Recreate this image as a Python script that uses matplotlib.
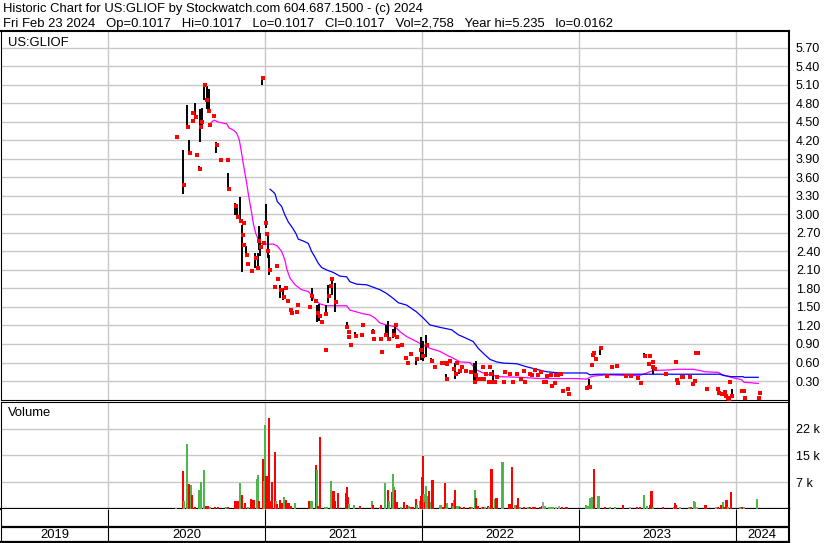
import numpy as np
import matplotlib.pyplot as plt

plt.rcParams['font.family'] = ['Liberation Sans', 'DejaVu Sans']

# daily bars, (decimal year, high, low, close); high == low means a single trade price
price_2020 = [
    (2020.438, 4.26, 4.26, 4.26), (2020.480, 4.04, 3.33, 3.48), (2020.505, 4.78, 4.40, 4.42),
    (2020.519, 4.21, 4.00, 4.00), (2020.535, 4.64, 4.64, 4.64), (2020.540, 4.52, 4.52, 4.52),
    (2020.556, 4.81, 4.58, 4.58), (2020.561, 3.96, 3.96, 3.96), (2020.582, 3.78, 3.70, 3.74),
    (2020.588, 4.71, 4.18, 4.42), (2020.597, 4.72, 4.45, 4.50), (2020.614, 5.11, 4.86, 5.10),
    (2020.629, 5.09, 4.71, 4.85), (2020.642, 5.03, 4.67, 4.68), (2020.646, 4.45, 4.45, 4.45),
    (2020.671, 4.60, 4.60, 4.60), (2020.690, 4.18, 3.99, 4.13), (2020.714, 3.88, 3.88, 3.88),
    (2020.758, 3.88, 3.88, 3.88), (2020.767, 3.67, 3.42, 3.42), (2020.809, 3.18, 2.99, 3.14),
    (2020.824, 3.14, 2.96, 2.96), (2020.843, 3.28, 2.90, 2.90), (2020.856, 2.83, 2.07, 2.66),
    (2020.862, 2.87, 2.87, 2.87), (2020.866, 2.51, 2.51, 2.51), (2020.880, 2.49, 2.34, 2.34),
    (2020.888, 2.19, 2.19, 2.19), (2020.916, 2.08, 2.08, 2.08), (2020.937, 2.38, 2.13, 2.29),
    (2020.954, 2.38, 2.13, 2.13), (2020.960, 2.81, 2.42, 2.57), (2020.969, 2.70, 2.32, 2.48),
    (2020.983, 5.235, 5.10, 5.21), (2020.990, 2.53, 2.53, 2.53),
]
price_2021 = [
    (2021.005, 3.17, 2.78, 2.86), (2021.010, 2.68, 2.68, 2.68), (2021.018, 2.70, 2.29, 2.40),
    (2021.026, 2.34, 2.02, 2.10), (2021.062, 1.86, 1.80, 1.83), (2021.075, 2.16, 2.16, 2.16),
    (2021.079, 1.95, 1.95, 1.95), (2021.096, 1.86, 1.65, 1.78), (2021.115, 1.80, 1.62, 1.66),
    (2021.128, 1.80, 1.80, 1.80), (2021.143, 1.59, 1.59, 1.59), (2021.160, 1.45, 1.45, 1.45),
    (2021.171, 1.41, 1.41, 1.41), (2021.198, 1.42, 1.42, 1.42), (2021.207, 1.53, 1.53, 1.53),
    (2021.283, 1.50, 1.50, 1.50), (2021.298, 1.80, 1.59, 1.68), (2021.319, 1.59, 1.59, 1.59),
    (2021.334, 1.53, 1.26, 1.40), (2021.345, 1.55, 1.28, 1.35), (2021.358, 1.26, 1.26, 1.26),
    (2021.385, 0.80, 0.80, 0.80), (2021.388, 1.53, 1.39, 1.39), (2021.404, 1.86, 1.56, 1.68),
    (2021.415, 1.84, 1.84, 1.84), (2021.426, 1.97, 1.69, 1.96), (2021.447, 1.89, 1.42, 1.58),
    (2021.521, 1.26, 1.18, 1.18), (2021.532, 1.10, 1.10, 1.10), (2021.535, 1.02, 1.02, 1.02),
    (2021.542, 0.88, 0.88, 0.88), (2021.574, 1.10, 1.03, 1.03), (2021.613, 1.05, 1.05, 1.05),
    (2021.619, 1.20, 1.20, 1.20), (2021.687, 1.14, 1.07, 1.10), (2021.691, 0.98, 0.98, 0.98),
    (2021.734, 0.98, 0.98, 0.98), (2021.744, 0.77, 0.77, 0.77), (2021.770, 1.21, 1.02, 1.05),
    (2021.786, 1.27, 0.98, 0.98), (2021.818, 1.15, 0.99, 1.05), (2021.829, 1.23, 1.02, 1.21),
    (2021.836, 1.02, 1.02, 1.02), (2021.846, 0.86, 0.86, 0.86), (2021.872, 0.89, 0.89, 0.89),
    (2021.893, 0.68, 0.68, 0.68), (2021.910, 0.59, 0.59, 0.59), (2021.925, 0.73, 0.73, 0.73),
    (2021.963, 0.67, 0.56, 0.66), (2021.993, 1.02, 0.64, 0.80),
]
price_2022 = [
    (2022.006, 0.95, 0.62, 0.70), (2022.027, 1.05, 0.69, 0.88), (2022.059, 0.67, 0.59, 0.63),
    (2022.078, 0.53, 0.53, 0.53), (2022.127, 0.60, 0.60, 0.60), (2022.148, 0.59, 0.59, 0.59),
    (2022.154, 0.42, 0.34, 0.34), (2022.160, 0.60, 0.55, 0.57), (2022.175, 0.63, 0.63, 0.63),
    (2022.201, 0.49, 0.49, 0.49), (2022.212, 0.59, 0.34, 0.42), (2022.218, 0.59, 0.59, 0.59),
    (2022.239, 0.50, 0.42, 0.46), (2022.254, 0.53, 0.53, 0.53), (2022.275, 0.46, 0.46, 0.46),
    (2022.312, 0.45, 0.45, 0.45), (2022.335, 0.59, 0.26, 0.29), (2022.343, 0.62, 0.30, 0.40),
    (2022.354, 0.33, 0.33, 0.33), (2022.371, 0.33, 0.33, 0.33), (2022.388, 0.53, 0.53, 0.53),
    (2022.395, 0.33, 0.33, 0.33), (2022.403, 0.42, 0.42, 0.42), (2022.424, 0.29, 0.29, 0.29),
    (2022.430, 0.53, 0.53, 0.53), (2022.440, 0.42, 0.42, 0.42), (2022.452, 0.48, 0.29, 0.29),
    (2022.465, 0.29, 0.29, 0.29), (2022.475, 0.36, 0.36, 0.36), (2022.520, 0.29, 0.29, 0.29),
    (2022.524, 0.44, 0.44, 0.44), (2022.558, 0.44, 0.40, 0.42), (2022.579, 0.29, 0.29, 0.29),
    (2022.605, 0.42, 0.42, 0.42), (2022.626, 0.34, 0.34, 0.34), (2022.647, 0.47, 0.47, 0.47),
    (2022.653, 0.29, 0.29, 0.29), (2022.685, 0.42, 0.42, 0.42), (2022.700, 0.40, 0.40, 0.40),
    (2022.721, 0.48, 0.48, 0.48), (2022.735, 0.40, 0.40, 0.40), (2022.753, 0.48, 0.42, 0.45),
    (2022.774, 0.29, 0.29, 0.29), (2022.785, 0.29, 0.29, 0.29), (2022.792, 0.38, 0.38, 0.38),
    (2022.817, 0.40, 0.40, 0.40), (2022.828, 0.22, 0.22, 0.22), (2022.843, 0.27, 0.27, 0.27),
    (2022.850, 0.40, 0.40, 0.40), (2022.865, 0.40, 0.40, 0.40), (2022.881, 0.42, 0.42, 0.42),
    (2022.898, 0.14, 0.14, 0.14), (2022.930, 0.17, 0.17, 0.17), (2022.932, 0.09, 0.09, 0.09),
]
price_2023 = [
    (2023.051, 0.19, 0.19, 0.19), (2023.060, 0.20, 0.20, 0.20), (2023.068, 0.34, 0.21, 0.21),
    (2023.083, 0.56, 0.56, 0.56), (2023.089, 0.72, 0.72, 0.72), (2023.097, 0.75, 0.75, 0.75),
    (2023.104, 0.65, 0.65, 0.65), (2023.136, 0.83, 0.72, 0.83), (2023.174, 0.38, 0.38, 0.38),
    (2023.206, 0.53, 0.53, 0.53), (2023.238, 0.54, 0.54, 0.54), (2023.295, 0.38, 0.38, 0.38),
    (2023.333, 0.38, 0.38, 0.38), (2023.376, 0.35, 0.35, 0.35), (2023.395, 0.27, 0.27, 0.27),
    (2023.418, 0.75, 0.69, 0.70), (2023.444, 0.58, 0.58, 0.58), (2023.454, 0.70, 0.70, 0.70),
    (2023.467, 0.61, 0.61, 0.61), (2023.472, 0.52, 0.42, 0.52), (2023.480, 0.50, 0.50, 0.50),
    (2023.550, 0.42, 0.42, 0.42), (2023.614, 0.61, 0.61, 0.61), (2023.620, 0.32, 0.32, 0.32),
    (2023.631, 0.27, 0.27, 0.27), (2023.652, 0.37, 0.37, 0.37), (2023.660, 0.37, 0.37, 0.37),
    (2023.709, 0.37, 0.37, 0.37), (2023.722, 0.25, 0.25, 0.25), (2023.737, 0.33, 0.27, 0.30),
    (2023.746, 0.75, 0.75, 0.75), (2023.758, 0.75, 0.75, 0.75), (2023.816, 0.17, 0.17, 0.17),
    (2023.886, 0.17, 0.17, 0.17), (2023.892, 0.11, 0.11, 0.11), (2023.911, 0.09, 0.09, 0.09),
    (2023.926, 0.12, 0.12, 0.12), (2023.933, 0.05, 0.05, 0.05), (2023.947, 0.05, 0.01, 0.02),
    (2023.952, 0.01, 0.01, 0.01), (2023.964, 0.29, 0.29, 0.29), (2023.975, 0.17, 0.05, 0.06),
]
price_2024 = [
    (2024.039, 0.14, 0.14, 0.14), (2024.048, 0.14, 0.14, 0.14), (2024.055, 0.02, 0.02, 0.02),
    (2024.143, 0.02, 0.02, 0.02), (2024.149, 0.10, 0.10, 0.10),
]

# moving averages (decimal year, price)
ma_short = [
    (2020.646, 4.45), (2020.661, 4.50), (2020.676, 4.53), (2020.703, 4.50), (2020.735, 4.48),
    (2020.757, 4.47), (2020.773, 4.40), (2020.799, 4.37), (2020.820, 4.32), (2020.837, 4.21),
    (2020.852, 3.99), (2020.862, 3.83), (2020.873, 3.67), (2020.884, 3.51), (2020.894, 3.34),
    (2020.905, 3.18), (2020.916, 3.02), (2020.926, 2.86), (2020.941, 2.70), (2020.958, 2.59),
    (2020.975, 2.53), (2021.001, 2.52), (2021.054, 2.52), (2021.079, 2.49), (2021.107, 2.40),
    (2021.128, 2.26), (2021.139, 2.12), (2021.160, 1.97), (2021.192, 1.86), (2021.235, 1.78),
    (2021.277, 1.75), (2021.298, 1.69), (2021.319, 1.61), (2021.351, 1.55), (2021.394, 1.52),
    (2021.521, 1.52), (2021.542, 1.45), (2021.585, 1.42), (2021.627, 1.39), (2021.670, 1.37),
    (2021.702, 1.32), (2021.734, 1.24), (2021.776, 1.21), (2021.829, 1.18), (2021.861, 1.10),
    (2021.904, 1.02), (2021.967, 0.94), (2022.010, 0.88), (2022.052, 0.83), (2022.116, 0.78),
    (2022.159, 0.72), (2022.201, 0.67), (2022.243, 0.61), (2022.307, 0.60), (2022.328, 0.54),
    (2022.350, 0.48), (2022.382, 0.44), (2022.414, 0.41), (2022.498, 0.37), (2022.626, 0.36),
    (2022.753, 0.34), (2022.987, 0.34), (2023.051, 0.33), (2023.072, 0.36), (2023.093, 0.38),
    (2023.178, 0.40), (2023.306, 0.39), (2023.386, 0.39), (2023.412, 0.41), (2023.444, 0.44),
    (2023.475, 0.47), (2023.582, 0.48), (2023.628, 0.49), (2023.730, 0.49), (2023.773, 0.47),
    (2023.805, 0.45), (2023.890, 0.44), (2023.911, 0.41), (2023.943, 0.38), (2023.971, 0.36),
    (2024.007, 0.34), (2024.039, 0.32), (2024.054, 0.28), (2024.103, 0.27), (2024.145, 0.26),
]
ma_long = [
    (2021.033, 3.41), (2021.064, 3.34), (2021.079, 3.21), (2021.107, 3.13), (2021.128, 2.99),
    (2021.149, 2.88), (2021.177, 2.78), (2021.198, 2.69), (2021.213, 2.60), (2021.245, 2.57),
    (2021.277, 2.53), (2021.298, 2.40), (2021.319, 2.31), (2021.340, 2.21), (2021.362, 2.14),
    (2021.394, 2.10), (2021.436, 2.06), (2021.479, 2.00), (2021.521, 1.99), (2021.542, 1.91),
    (2021.585, 1.87), (2021.649, 1.86), (2021.691, 1.82), (2021.734, 1.78), (2021.776, 1.72),
    (2021.818, 1.64), (2021.850, 1.57), (2021.904, 1.53), (2021.967, 1.42), (2022.010, 1.32),
    (2022.052, 1.21), (2022.116, 1.17), (2022.191, 1.13), (2022.233, 1.05), (2022.286, 0.99),
    (2022.328, 0.94), (2022.360, 0.83), (2022.392, 0.75), (2022.435, 0.65), (2022.477, 0.61),
    (2022.519, 0.59), (2022.605, 0.58), (2022.669, 0.53), (2022.732, 0.49), (2022.796, 0.45),
    (2022.881, 0.43), (2023.051, 0.43), (2023.072, 0.40), (2023.115, 0.41), (2023.475, 0.41),
    (2023.900, 0.41), (2023.922, 0.39), (2023.975, 0.37), (2024.049, 0.37), (2024.054, 0.36),
    (2024.145, 0.36),
]

# volume in thousands of shares: (decimal year, volume, direction 1 up / -1 down / 0 flat)
vol_2020 = [
    (2020.431, 0.3, 1), (2020.476, 10.3, -1), (2020.484, 2.1, 1), (2020.502, 17.9, 1),
    (2020.514, 6.9, -1), (2020.527, 6.7, 1), (2020.535, 3.9, -1), (2020.553, 0.55, -1),
    (2020.582, 5.1, 1), (2020.591, 7.3, 1), (2020.610, 10.8, 1), (2020.623, 0.7, -1),
    (2020.635, 0.9, -1), (2020.650, 0.55, 1), (2020.682, 0.45, -1), (2020.703, 0.45, -1),
    (2020.752, 0.45, 1), (2020.767, 0.45, -1), (2020.809, 2.3, -1), (2020.826, 2.3, -1),
    (2020.841, 7.2, 1), (2020.854, 3.9, -1), (2020.873, 1.6, -1), (2020.894, 0.55, 1),
    (2020.912, 2.8, -1), (2020.924, 2.5, -1), (2020.932, 2.5, -1), (2020.948, 8.3, 1),
    (2020.956, 9.3, 1), (2020.962, 2.1, -1), (2020.986, 13.8, -1), (2020.992, 7.6, 1),
]
vol_2021 = [
    (2021.001, 23.1, 1), (2021.011, 9.1, -1), (2021.016, 5.5, -1), (2021.026, 24.9, -1),
    (2021.034, 2.3, -1), (2021.045, 7.5, -1), (2021.064, 15.7, -1), (2021.073, 2.3, 1),
    (2021.079, 1.4, -1), (2021.096, 2.5, -1), (2021.107, 1.6, -1), (2021.122, 3.3, 1),
    (2021.133, 2.5, -1), (2021.145, 1.6, -1), (2021.154, 1.6, -1), (2021.164, 0.9, -1),
    (2021.192, 1.6, 1), (2021.283, 2.3, -1), (2021.292, 2.3, 1), (2021.298, 2.3, 1),
    (2021.324, 12.1, -1), (2021.332, 10.8, 1), (2021.338, 0.9, -1), (2021.349, 19.8, -1),
    (2021.383, 0.55, 1), (2021.394, 0.55, 1), (2021.419, 7.8, 1), (2021.438, 5.0, -1),
    (2021.447, 2.1, -1), (2021.464, 4.4, -1), (2021.515, 4.4, -1), (2021.523, 6.0, -1),
    (2021.532, 3.3, -1), (2021.538, 1.4, 1), (2021.568, 1.1, 1), (2021.606, 0.9, -1),
    (2021.683, 2.3, 1), (2021.691, 1.1, -1), (2021.734, 0.45, 0), (2021.740, 1.1, -1),
    (2021.765, 7.2, 1), (2021.785, 5.3, -1), (2021.793, 2.3, 1), (2021.808, 4.7, -1),
    (2021.816, 9.7, 1), (2021.825, 6.0, 1), (2021.831, 5.1, -1), (2021.842, 1.8, -1),
    (2021.866, 0.45, 1), (2021.885, 2.0, -1), (2021.904, 1.1, -1), (2021.918, 0.7, 1),
    (2021.929, 0.45, -1), (2021.946, 0.45, -1), (2021.961, 2.8, -1), (2021.969, 1.1, 1),
    (2021.989, 2.3, 1), (2021.997, 3.6, -1),
]
vol_2022 = [
    (2022.001, 8.8, -1), (2022.008, 14.4, -1), (2022.014, 4.1, 1), (2022.020, 2.0, -1),
    (2022.027, 6.4, 1), (2022.035, 3.6, 1), (2022.048, 5.0, -1), (2022.057, 1.9, 1),
    (2022.069, 8.0, -1), (2022.120, 1.1, 1), (2022.135, 0.45, -1), (2022.148, 7.2, -1),
    (2022.154, 0.3, 1), (2022.163, 1.6, 1), (2022.191, 1.6, -1), (2022.197, 0.9, 1),
    (2022.204, 2.5, 1), (2022.214, 5.3, -1), (2022.226, 0.9, 1), (2022.235, 0.9, 1),
    (2022.243, 0.45, -1), (2022.269, 0.45, -1), (2022.307, 0.45, -1), (2022.318, 0.45, 1),
    (2022.339, 5.3, 1), (2022.345, 3.1, -1), (2022.360, 0.7, -1), (2022.382, 0.45, 1),
    (2022.392, 0.45, -1), (2022.403, 0.45, 1), (2022.420, 0.7, -1), (2022.428, 0.45, 1),
    (2022.445, 11.0, -1), (2022.467, 2.8, 1), (2022.477, 3.1, -1), (2022.515, 13.0, 1),
    (2022.559, 1.4, -1), (2022.576, 11.6, -1), (2022.594, 1.1, 1), (2022.605, 1.1, -1),
    (2022.615, 3.1, -1), (2022.628, 0.45, 1), (2022.651, 0.45, -1), (2022.677, 0.45, 1),
    (2022.692, 0.45, -1), (2022.707, 0.55, -1), (2022.721, 0.45, -1), (2022.753, 0.45, -1),
    (2022.764, 0.9, -1), (2022.772, 2.0, 0), (2022.785, 0.7, 1), (2022.811, 0.45, 1),
    (2022.823, 0.45, 1), (2022.838, 0.45, 1), (2022.855, 0.45, 0), (2022.874, 0.9, 0),
    (2022.896, 0.45, -1), (2022.923, 0.45, -1),
]
vol_2023 = [
    (2023.047, 1.1, 1), (2023.057, 0.7, 1), (2023.076, 3.1, 1), (2023.089, 3.4, 1),
    (2023.097, 11.0, -1), (2023.127, 3.6, 1), (2023.166, 0.45, -1), (2023.199, 0.45, 1),
    (2023.231, 0.45, 1), (2023.284, 1.1, -1), (2023.327, 0.45, 0), (2023.370, 0.45, -1),
    (2023.391, 0.45, -1), (2023.416, 3.9, 1), (2023.437, 0.7, 1), (2023.454, 1.1, -1),
    (2023.465, 5.0, -1), (2023.475, 0.45, 1), (2023.539, 0.45, -1), (2023.607, 0.45, 1),
    (2023.614, 1.6, -1), (2023.620, 1.1, -1), (2023.646, 0.45, 0), (2023.705, 0.45, 1),
    (2023.714, 0.45, -1), (2023.735, 2.3, 1), (2023.743, 2.0, 1), (2023.752, 0.45, 0),
    (2023.809, 1.1, -1), (2023.879, 0.45, 0), (2023.890, 0.45, -1), (2023.905, 1.1, -1),
    (2023.918, 1.8, 1), (2023.926, 0.45, -1), (2023.943, 2.5, -1), (2023.953, 0.45, 1),
    (2023.969, 4.7, -1),
]
vol_2024 = [
    (2024.028, 0.45, 1), (2024.039, 0.45, -1), (2024.054, 0.45, 0), (2024.138, 2.8, 1),
]

year_starts = [2020, 2021, 2022, 2023, 2024]
year_names = ['2019', '2020', '2021', '2022', '2023', '2024']
price_ticks = [0.30, 0.60, 0.90, 1.20, 1.50, 1.80, 2.10, 2.40, 2.70, 3.00,
               3.30, 3.60, 3.90, 4.20, 4.50, 4.80, 5.10, 5.40, 5.70]
vol_ticks = [7333, 14667, 22000]
vol_tick_labels = ['7 k', '15 k', '22 k']

title_line = 'Historic Chart for US:GLIOF by Stockwatch.com 604.687.1500 - (c) 2024'
quote_line = ('Fri Feb 23 2024   Op=0.1017   Hi=0.1017   Lo=0.1017   Cl=0.1017   '
              'Vol=2,758   Year hi=5.235   lo=0.0162')

# ---- layout helpers (pixel boxes on an 830x543 canvas)
W, H = 830, 543
def box(left, top, right, bottom):
    return [left / W, 1 - bottom / H, (right - left) / W, (bottom - top) / H]

x_lo, x_hi = 2019.318, 2024.341
GRID = '#c8c8c8'
UP, DOWN, FLAT = '#4cb84c', '#ff0000', '#a0a0a0'

fig = plt.figure(figsize=(W / 100, H / 100), dpi=100)
fig.patch.set_facecolor('white')

fig.text(3 / W, 1 - 9 / H, title_line, fontsize=9.4, va='center', ha='left')
fig.text(3 / W, 1 - 23.5 / H, quote_line, fontsize=9.4, va='center', ha='left')

# ---- price panel
prices = np.array(price_2020 + price_2021 + price_2022 + price_2023 + price_2024)
d, hi, lo, cl = prices[:, 0], prices[:, 1], prices[:, 2], prices[:, 3]

ax = fig.add_axes(box(1, 31, 789, 400))
ax.set_xlim(x_lo, x_hi)
ax.set_ylim(-0.008, 5.975)
ax.set_xticks(year_starts)
ax.set_yticks(price_ticks)
ax.set_yticklabels(['%.2f' % t for t in price_ticks])
ax.grid(True, color=GRID, lw=1.0)
ax.set_axisbelow(True)
ax.yaxis.tick_right()
ax.tick_params(axis='x', length=0, labelbottom=False)
ax.tick_params(axis='y', length=0, pad=5, labelsize=9)

rng = hi > lo
ax.vlines(d[rng], lo[rng], hi[rng], color='black', lw=1.4, zorder=3)
ax.plot(d + 0.004, cl, ls='none', marker='s', ms=2.5, mew=0, color='red', zorder=4)

ms = np.array(ma_short)
ml = np.array(ma_long)
ax.plot(ms[:, 0], ms[:, 1], color='#ff00ff', lw=0.9, zorder=2)
ax.plot(ml[:, 0], ml[:, 1], color='#0000ff', lw=0.9, zorder=2)

ax.text(7 / 788, 1 - 12 / 369, 'US:GLIOF', transform=ax.transAxes,
        fontsize=9.4, va='center', ha='left')

for side, lw in [('top', 1.5), ('right', 1.5), ('left', 0.8), ('bottom', 0.8)]:
    ax.spines[side].set_linewidth(lw)

# ---- volume panel
vols = np.array(vol_2020 + vol_2021 + vol_2022 + vol_2023 + vol_2024)
vcol = [UP if s > 0 else DOWN if s < 0 else FLAT for s in vols[:, 2]]

axv = fig.add_axes(box(1, 402, 789, 509))
axv.set_xlim(x_lo, x_hi)
axv.set_ylim(0, 29333)
axv.bar(vols[:, 0], vols[:, 1] * 1000, width=0.014, color=vcol, lw=0, zorder=3)
axv.set_xticks(year_starts)
axv.set_yticks(vol_ticks)
axv.set_yticklabels(vol_tick_labels)
axv.grid(True, color=GRID, lw=1.0)
axv.set_axisbelow(True)
axv.yaxis.tick_right()
axv.tick_params(axis='x', length=0, labelbottom=False)
axv.tick_params(axis='y', length=0, pad=5, labelsize=9)
axv.text(7 / 788, 1 - 11 / 107, 'Volume', transform=axv.transAxes,
         fontsize=9.4, va='center', ha='left')
for side, lw in [('top', 0.8), ('right', 1.5), ('left', 0.8), ('bottom', 1.6)]:
    axv.spines[side].set_linewidth(lw)

# ---- date strip
axd = fig.add_axes(box(1, 509, 789, 542))
axd.set_xlim(x_lo, x_hi)
axd.set_ylim(0, 1)
axd.set_xticks([])
axd.set_yticks([])
axd.axhline(15 / 33, color='black', lw=1.6)
axd.vlines(year_starts, 0, 1, color='black', lw=0.8)
edges = [x_lo] + year_starts + [x_hi]
for i, name in enumerate(year_names):
    axd.text((edges[i] + edges[i + 1]) / 2, 7.5 / 33, name, fontsize=9.4,
             ha='center', va='center')
axd.spines['top'].set_visible(False)
for side, lw in [('right', 1.5), ('left', 0.8), ('bottom', 1.6)]:
    axd.spines[side].set_linewidth(lw)

fig.savefig('out.png', dpi=100)
